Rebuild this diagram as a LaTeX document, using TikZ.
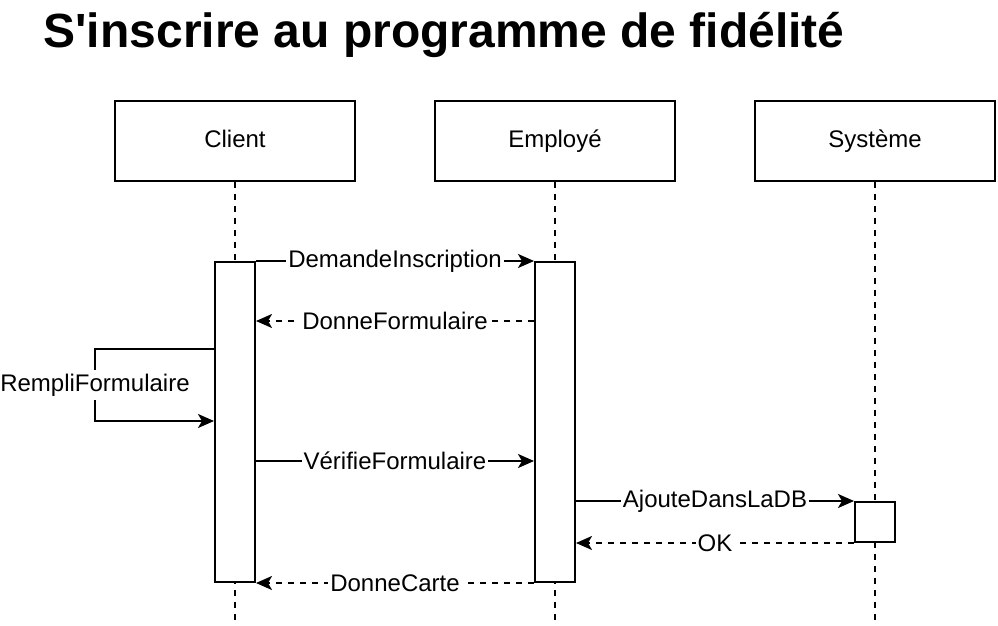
\documentclass[tikz,border=0pt]{standalone}
\usepackage{fontspec}
\setmainfont{Liberation Sans}
\usetikzlibrary{arrows.meta}

\tikzset{
  actor/.style    = {draw, line width=2pt, minimum width=240pt, minimum height=80pt,
                     text height=17pt, text depth=5pt, font=\fontsize{24}{29}\selectfont},
  lifeline/.style = {line width=2pt, dash pattern=on 6pt off 6pt},
  bar/.style      = {draw, fill=white, line width=2pt, minimum width=40pt, anchor=north},
  msg/.style      = {line width=2pt, -{Stealth[length=16pt, width=14pt, inset=4pt]}},
  reply/.style    = {msg, dash pattern=on 6pt off 6pt},
  lbl/.style      = {fill=white, inner xsep=2pt, inner ysep=4pt,
                     font=\fontsize{24}{29}\selectfont},
}

\begin{document}
\begin{tikzpicture}[x=1pt, y=-1pt]
    \useasboundingbox (0,0) rectangle (998,626);
    \node[anchor=base west, font=\fontsize{48}{58}\selectfont\bfseries] (titre) at (40,48)
      {S\textquotesingle inscrire au programme de fidélité};
    \foreach \name/\x/\txt in {client/235/Client, employe/555/Employé, systeme/875/Système}{
      \node[actor] (\name) at (\x,141) {\txt};
      \coordinate (\name-fin) at (\x,620);
      \draw[lifeline] (\name.south) -- (\name-fin);
    }
    % activations
    \node[bar, minimum height=320pt] (actclient)  at (235,261) {};
    \node[bar, minimum height=320pt] (actemploye) at (555,261) {};
    \node[bar, minimum height=40pt]  (actsysteme) at (875,501) {};
    % messages
    \coordinate (y2)  at (0,321);
    \coordinate (y3a) at (95,349);
    \coordinate (y3b) at (95,421);
    \coordinate (y4)  at (0,461);
    \draw[msg]   (actclient.north east) -- node[lbl] {DemandeInscription} (actemploye.north west);
    \draw[reply] (actemploye.west |- y2) -- node[lbl] {DonneFormulaire} (actclient.east |- y2);
    \draw[msg]   (actclient.west |- y3a) -- (y3a) -- node[lbl] {RempliFormulaire} (y3b)
                 -- (actclient.west |- y3b);
    \draw[msg]   (actclient.east |- y4) -- node[lbl] {VérifieFormulaire} (actemploye.west |- y4);
    \draw[msg]   (actemploye.east |- actsysteme.north) -- node[lbl] {AjouteDansLaDB} (actsysteme.north west);
    \draw[reply] (actsysteme.south west) -- node[lbl] {OK} (actemploye.east |- actsysteme.south);
    \draw[reply] (actemploye.south west) -- node[lbl] {DonneCarte} (actclient.south east);
  \end{tikzpicture}
\end{document}
